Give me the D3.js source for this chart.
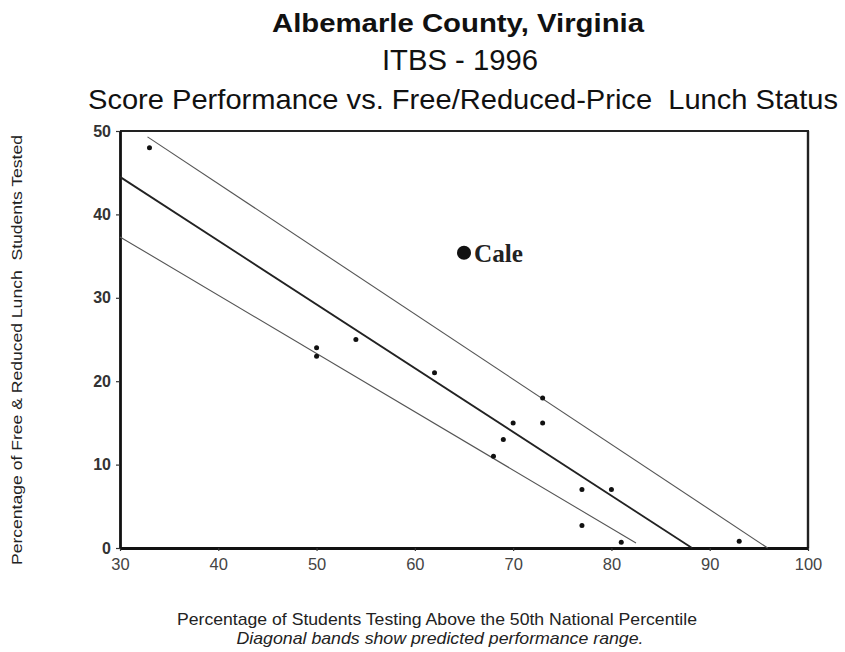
<!DOCTYPE html>
<html>
<head>
<meta charset="utf-8">
<script src="https://cdn.jsdelivr.net/npm/d3@7/dist/d3.min.js"></script>
<style>
  html, body { margin: 0; padding: 0; background: #fff; }
  svg { display: block; }
</style>
</head>
<body>
<svg id="chart" width="845" height="652"></svg>
<script>
// ---- Data ----
const titleLines = ["Albemarle County, Virginia", "ITBS - 1996", "Score Performance vs. Free/Reduced-Price  Lunch Status"];
const xTicks = [30, 40, 50, 60, 70, 80, 90, 100];
const yTicks = [0, 10, 20, 30, 40, 50];
const schoolX = [33, 50, 50, 54, 62, 68, 69, 70, 73, 73, 77, 80, 77, 81, 93];
const schoolY = [48, 24, 23, 25, 21, 11, 13, 15, 18, 15, 7, 7, 2.7, 0.7, 0.8];
const caleX = [65];
const caleY = [35.4];
const caleName = ["Cale"];
const centerLineX = [30, 88.2];
const centerLineY = [44.5, 0];
const upperBandX = [32.8, 95.9];
const upperBandY = [49.3, 0];
const lowerBandX = [30, 82.5];
const lowerBandY = [37.3, 0.6];
const xAxisTitle = ["Percentage of Students Testing Above the 50th National Percentile", "Diagonal bands show predicted performance range."];
const yAxisTitle = "Percentage of Free & Reduced Lunch  Students Tested";

// ---- Layout ----
const svg = d3.select("#chart");
const mLeft = 120, mRight = 808, mTop = 131, mBottom = 548;
const x = d3.scaleLinear().domain([30, 100]).range([mLeft, mRight]);
const y = d3.scaleLinear().domain([0, 50]).range([mBottom, mTop]);
const sans = "Liberation Sans, Arial, Helvetica, sans-serif";

// Titles
svg.append("text").attr("x", 458).attr("y", 32).attr("text-anchor", "middle")
  .attr("font-family", sans).attr("font-weight", "bold")
  .attr("font-size", 26).attr("fill", "#111")
  .attr("textLength", 372).attr("lengthAdjust", "spacingAndGlyphs").text(titleLines[0]);
svg.append("text").attr("x", 460).attr("y", 70).attr("text-anchor", "middle")
  .attr("font-family", sans)
  .attr("font-size", 29).attr("fill", "#111")
  .attr("textLength", 156).attr("lengthAdjust", "spacingAndGlyphs").text(titleLines[1]);
svg.append("text").attr("x", 463).attr("y", 109).attr("text-anchor", "middle")
  .attr("font-family", sans)
  .attr("font-size", 28).attr("fill", "#111")
  .attr("textLength", 750).attr("lengthAdjust", "spacingAndGlyphs")
  .style("white-space", "pre").text(titleLines[2]);

// Frame (top and right)
svg.append("line").attr("x1", mLeft).attr("x2", mRight + 1).attr("y1", mTop).attr("y2", mTop)
  .attr("stroke", "#222").attr("stroke-width", 2);
svg.append("line").attr("x1", mRight).attr("x2", mRight).attr("y1", mTop).attr("y2", mBottom)
  .attr("stroke", "#222").attr("stroke-width", 2.4);

// Axes
const xAxis = d3.axisBottom(x).tickValues(xTicks).tickSize(3).tickSizeOuter(0);
const yAxis = d3.axisLeft(y).tickValues(yTicks).tickSize(4).tickSizeOuter(0);

const gx = svg.append("g").attr("transform", `translate(0,${mBottom})`).call(xAxis);
const gy = svg.append("g").attr("transform", `translate(${mLeft},0)`).call(yAxis);
[gx, gy].forEach(g => {
  g.select(".domain").attr("stroke", "#111").attr("stroke-width", 2.8);
  g.selectAll(".tick line").attr("stroke", "#333").attr("stroke-width", 1.2);
});
gx.selectAll(".tick text").attr("font-family", sans)
  .attr("font-size", 16.5).attr("fill", "#444").attr("dy", null).attr("y", 22);
gy.selectAll(".tick text").attr("font-family", sans)
  .attr("font-size", 16).attr("font-weight", "bold").attr("fill", "#333").attr("x", -9);

// Regression and bands
const line = d3.line().x(d => x(d[0])).y(d => y(d[1]));
svg.append("path").datum(d3.zip(upperBandX, upperBandY)).attr("d", line)
  .attr("fill", "none").attr("stroke", "#555").attr("stroke-width", 1.1);
svg.append("path").datum(d3.zip(lowerBandX, lowerBandY)).attr("d", line)
  .attr("fill", "none").attr("stroke", "#555").attr("stroke-width", 1.1);
svg.append("path").datum(d3.zip(centerLineX, centerLineY)).attr("d", line)
  .attr("fill", "none").attr("stroke", "#222").attr("stroke-width", 1.8);

// School points
svg.append("g").selectAll("circle").data(d3.zip(schoolX, schoolY)).join("circle")
  .attr("cx", d => x(d[0])).attr("cy", d => y(d[1])).attr("r", 2.5).attr("fill", "#111");

// Cale
const cale = svg.append("g").selectAll("g").data(d3.zip(caleX, caleY, caleName)).join("g");
cale.append("circle").attr("cx", d => x(d[0])).attr("cy", d => y(d[1])).attr("r", 7).attr("fill", "#111");
cale.append("text").attr("x", d => x(d[0]) + 10).attr("y", d => y(d[1]) + 9)
  .attr("font-family", "Liberation Serif, Times New Roman, serif").attr("font-weight", "bold")
  .attr("font-size", 25).attr("fill", "#222")
  .attr("textLength", 49).attr("lengthAdjust", "spacingAndGlyphs").text(d => d[2]);

// Axis titles
svg.append("text").attr("x", 437).attr("y", 625).attr("text-anchor", "middle")
  .attr("font-family", sans)
  .attr("font-size", 17).attr("fill", "#222")
  .attr("textLength", 520).attr("lengthAdjust", "spacingAndGlyphs").text(xAxisTitle[0]);
svg.append("text").attr("x", 440).attr("y", 644).attr("text-anchor", "middle")
  .attr("font-family", sans).attr("font-style", "italic")
  .attr("font-size", 17).attr("fill", "#222")
  .attr("textLength", 407).attr("lengthAdjust", "spacingAndGlyphs").text(xAxisTitle[1]);
svg.append("text").attr("transform", "translate(22,350) rotate(-90)").attr("text-anchor", "middle")
  .attr("font-family", sans)
  .attr("font-size", 15).attr("fill", "#222")
  .attr("textLength", 430).attr("lengthAdjust", "spacingAndGlyphs")
  .style("white-space", "pre").text(yAxisTitle);
</script>
</body>
</html>
